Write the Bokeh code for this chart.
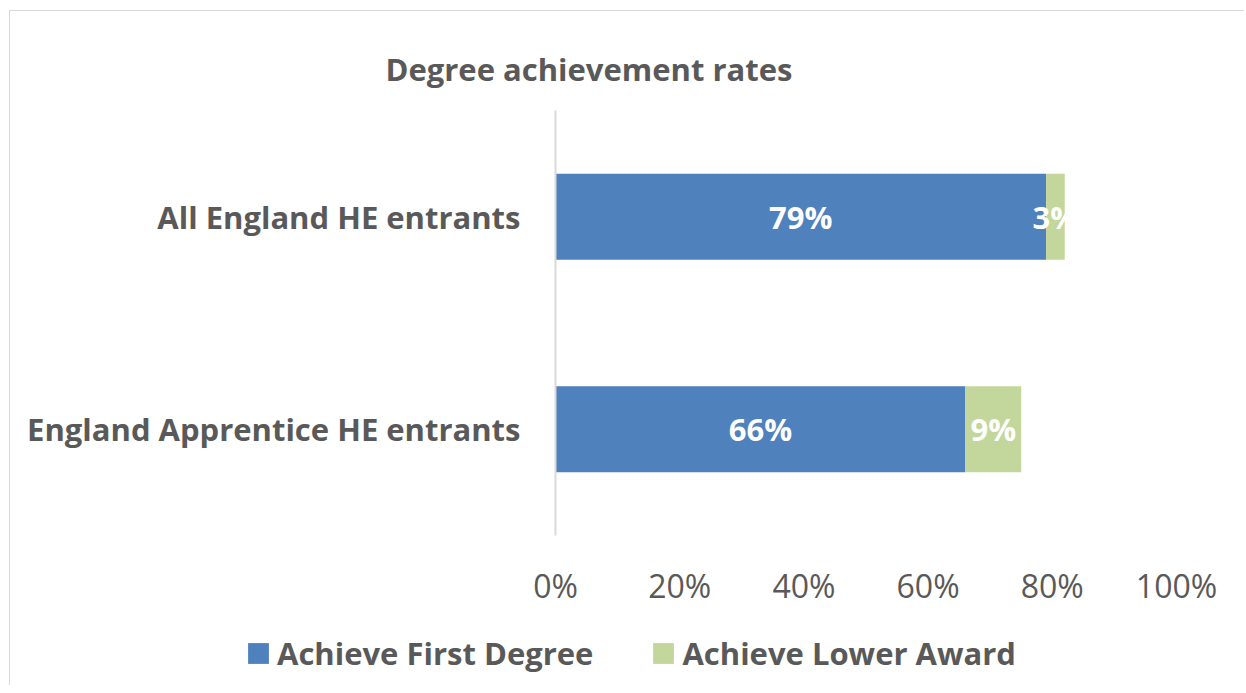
from bokeh.plotting import figure
from bokeh.layouts import column
from bokeh.models import (FactorRange, Range1d, FixedTicker, NumeralTickFormatter,
                          Legend, LegendItem, ColumnDataSource, Title)
from bokeh.core.properties import value
from bokeh.embed import file_html
from bokeh.resources import INLINE

categories = ["England Apprentice HE entrants", "All England HE entrants"]
first_degree = [66, 79]
lower_award = [9, 3]
series_names = ["Achieve First Degree", "Achieve Lower Award"]
tick_values = [0, 20, 40, 60, 80, 100]

BLUE = "#4f81bd"
GREEN = "#c3d69b"
GREY = "#595959"
FONT = "Open Sans"
colors = [BLUE, GREEN]

src = ColumnDataSource(dict(
    cat=categories,
    first=[v / 100 for v in first_degree],
    lower=[v / 100 for v in lower_award],
    first_mid=[v / 200 for v in first_degree],
    lower_mid=[(f + l / 2) / 100 for f, l in zip(first_degree, lower_award)],
    first_lbl=[f"{v}%" for v in first_degree],
    lower_lbl=[f"{v}%" for v in lower_award],
))

p = figure(frame_width=621, frame_height=425, y_range=FactorRange(factors=categories),
           x_range=Range1d(0, 1), output_backend="svg", toolbar_location=None,
           min_border_left=545, min_border_right=68, min_border_top=99,
           min_border_bottom=80)

t = Title(text="Degree achievement rates", align="left", offset=-170,
          text_font=FONT, text_font_size="31px", text_font_style="bold",
          text_color=GREY, standoff=42)
p.add_layout(t, "above")

r = p.hbar_stack(["first", "lower"], y="cat", height=0.405, color=colors,
                 line_color=None, source=src)

p.text(x="first_mid", y="cat", text="first_lbl", source=src, text_color="white",
       text_font=value(FONT), text_font_size="31px", text_font_style="bold",
       text_align="center", text_baseline="middle")
p.text(x="lower_mid", y="cat", text="lower_lbl", source=src, text_color="white",
       text_font=value(FONT), text_font_size="31px", text_font_style="bold",
       text_align="center", text_baseline="middle")

p.xgrid.visible = False
p.ygrid.visible = False
p.outline_line_color = None

xa = p.xaxis[0]
xa.ticker = FixedTicker(ticks=[v / 100 for v in tick_values])
xa.formatter = NumeralTickFormatter(format="0%")
xa.axis_line_color = None
xa.major_tick_line_color = None
xa.minor_tick_line_color = None
xa.major_label_text_font = FONT
xa.major_label_text_font_size = "32px"
xa.major_label_text_color = GREY
xa.major_label_standoff = 22

ya = p.yaxis[0]
ya.axis_line_color = "#d9d9d9"
ya.axis_line_width = 2
ya.major_tick_line_color = None
ya.minor_tick_line_color = None
ya.major_label_text_font = FONT
ya.major_label_text_font_size = "31px"
ya.major_label_text_font_style = "bold"
ya.major_label_text_color = GREY
ya.major_label_standoff = 29

# legend strip below the chart (hidden swatch renderers drive the legend glyphs)
p2 = figure(frame_width=1234, frame_height=70, output_backend="svg",
            toolbar_location=None, x_axis_type=None, y_axis_type=None,
            min_border=0)
p2.outline_line_color = None
p2.xgrid.visible = False
p2.ygrid.visible = False
swatches = [p2.hbar(y=f, right=f, height=0.01, source=src, color=c, line_color=None,
                    visible=False)
            for f, c in zip(["first", "lower"], colors)]

legend = Legend(items=[LegendItem(label=n, renderers=[s]) for n, s in zip(series_names, swatches)],
                orientation="horizontal", location=(235, 11),
                label_text_font=FONT, label_text_font_size="31px",
                label_text_font_style="bold", label_text_color=GREY,
                glyph_width=26, glyph_height=26, spacing=57, label_standoff=6,
                border_line_color=None, background_fill_alpha=0,
                margin=0, padding=0, click_policy="none")
p2.add_layout(legend, "center")

layout = column(p, p2, spacing=0)
layout.styles = {"border-left": "1px solid #d9d9d9", "border-top": "1px solid #d9d9d9",
                 "margin-left": "9px", "margin-top": "10px"}

open("out.html", "w").write(file_html(layout, INLINE))
